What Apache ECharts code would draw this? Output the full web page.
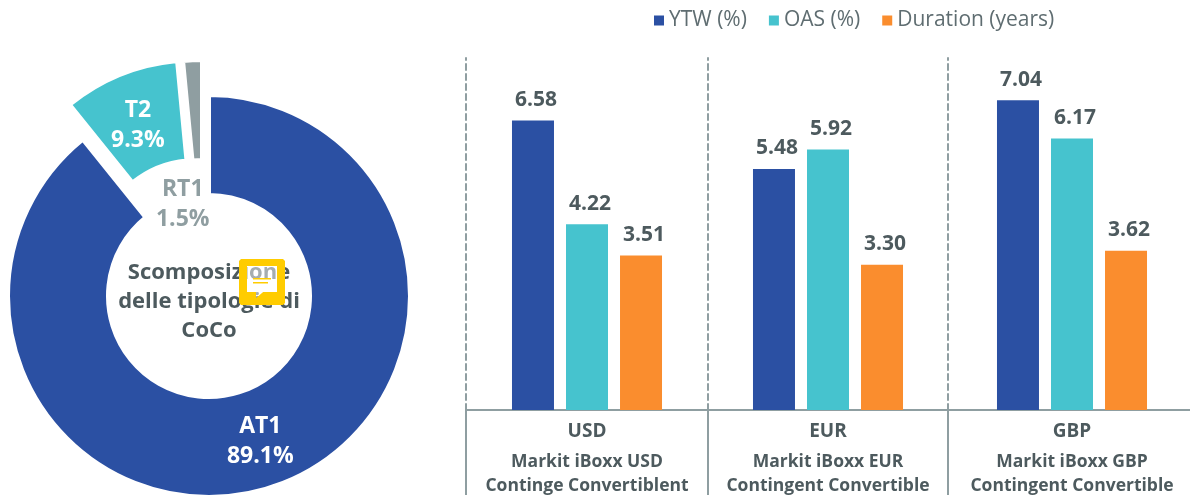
<!DOCTYPE html>
<html>
<head>
<meta charset="utf-8">
<style>html,body{margin:0;padding:0;background:#fff}#chart-container{width:1190px;height:495px}</style>
<script src="https://cdn.jsdelivr.net/npm/echarts@6/dist/echarts.min.js"></script>
</head>
<body>
<div id="chart-container"></div>
<script>
var pieNames = ['AT1', 'T2', 'RT1'];
var pieValues = [89.1, 9.3, 1.5];
var currencies = ['USD', 'EUR', 'GBP'];
var indexNames = ['Markit iBoxx USD\nContinge Convertiblent', 'Markit iBoxx EUR\nContingent Convertible', 'Markit iBoxx GBP\nContingent Convertible'];
var ytw = [6.58, 5.48, 7.04];
var oas = [4.22, 5.92, 6.17];
var duration = [3.51, 3.30, 3.62];
var centerTitle = 'Scomposizione\ndelle tipologie di\nCoCo';

var blue = '#2b50a3', teal = '#46c3ce', orange = '#fa8d2e', grey = '#8f9ea1', dark = '#4d5a5e';
var font = 'Open Sans';

var dom = document.getElementById('chart-container');
var myChart = echarts.init(dom, null, {renderer: 'canvas'});

var pieColors = [blue, teal, grey];
// each slice sits in its own pie so it can be pulled out on its own
var pieCenters = [[209, 296], [196, 261], [202, 261]];
var labelShift = [{dx: 0, dy: 0}, {dx: 0, dy: 7}, {dx: -12, dy: 97}];
var series = [];

pieNames.forEach(function (name, k) {
    series.push({
        type: 'pie',
        center: pieCenters[k],
        radius: [101, 201],
        startAngle: 90,
        clockwise: true,
        silent: true,
        data: pieNames.map(function (n, i) {
            return {
                name: n,
                value: pieValues[i],
                itemStyle: i === k
                    ? {color: pieColors[i], borderColor: '#fff', borderWidth: 4}
                    : {color: 'transparent', borderWidth: 0},
                label: {show: i === k}
            };
        }),
        label: {
            position: 'inside',
            formatter: function (p) { return p.name + '\n' + p.value.toFixed(1) + '%'; },
            color: k === 2 ? grey : '#fff',
            fontFamily: font,
            fontWeight: 'bold',
            fontSize: 23,
            lineHeight: 30
        },
        labelLayout: function (p) {
            if (p.dataIndex === k) return labelShift[k];
        },
        labelLine: {show: false}
    });
});

var grids = [{left: 466, width: 242}, {left: 708, width: 240}, {left: 948, width: 248}];
var barNames = ['YTW (%)', 'OAS (%)', 'Duration (years)'];
var barValues = [ytw, oas, duration];
var barColors = [blue, teal, orange];

grids.forEach(function (g, i) {
    barNames.forEach(function (name, s) {
        series.push({
            type: 'bar',
            name: name,
            xAxisIndex: i,
            yAxisIndex: i,
            data: [barValues[s][i]],
            barWidth: 42,
            barGap: '28.6%',
            itemStyle: {color: barColors[s]},
            label: {
                show: true,
                position: 'top',
                distance: 10,
                offset: [3, 0],
                formatter: function (p) { return p.value.toFixed(2); },
                color: dark,
                fontFamily: font,
                fontWeight: 'bold',
                fontSize: 21
            }
        });
    });
});

// comment marker: square with a speech bubble hole, joined by a keyhole edge
var bubble = [[247, 266], [247, 292], [256, 292], [256, 298], [263, 292], [277, 292], [277, 266]];
var markerSquare = [[239, 261], [241, 259], [283, 259], [285, 261], [285, 303], [283, 305], [241, 305], [239, 303], [239, 261]];
var markerPoints = markerSquare.concat(bubble, [[247, 266], [239, 261]]);

var option = {
    animation: false,
    legend: {
        data: barNames,
        left: 654,
        top: 10,
        padding: 0,
        itemWidth: 10,
        itemHeight: 10,
        itemGap: 22,
        icon: 'rect',
        selectedMode: false,
        textStyle: {color: '#5f6d71', fontFamily: font, fontSize: 21}
    },
    grid: grids.map(function (g) {
        return {left: g.left, width: g.width, top: 58, height: 352, outerBoundsMode: 'none'};
    }),
    xAxis: grids.map(function (g, i) {
        return {
            type: 'category',
            gridIndex: i,
            data: [currencies[i] + '\n' + indexNames[i]],
            axisLine: {lineStyle: {color: grey, width: 2}},
            axisTick: {show: true, length: 85, lineStyle: {color: grey, width: 2}},
            axisLabel: {
                interval: 0,
                margin: 4,
                formatter: function (v) {
                    var parts = v.split('\n');
                    return '{cur|' + parts[0] + '}\n{idx|' + parts[1] + '}\n{idx|' + parts[2] + '}';
                },
                rich: {
                    cur: {color: dark, fontFamily: font, fontWeight: 'bold', fontSize: 19, lineHeight: 36},
                    idx: {color: dark, fontFamily: font, fontWeight: 'bold', fontSize: 17.5, lineHeight: 24}
                }
            }
        };
    }),
    yAxis: grids.map(function (g, i) {
        return {
            type: 'value',
            gridIndex: i,
            min: 0,
            max: 8,
            splitLine: {show: false},
            axisTick: {show: false},
            axisLabel: {show: false},
            axisLine: {show: true, lineStyle: {color: grey, width: 2, type: [6, 4]}}
        };
    }),
    graphic: [
        {
            type: 'text',
            x: 209,
            y: 302,
            style: {text: centerTitle, align: 'center', verticalAlign: 'middle', fill: dark, fontFamily: font, fontWeight: 'bold', fontSize: 22, lineHeight: 29}
        },
        {type: 'polygon', shape: {points: markerPoints}, style: {fill: '#fc0'}},
        {type: 'polygon', shape: {points: bubble}, style: {fill: '#fff', opacity: 0.5}},
        {type: 'rect', shape: {x: 253, y: 278, width: 18, height: 1.5}, style: {fill: '#fc0'}},
        {type: 'rect', shape: {x: 253, y: 282, width: 15, height: 1.5}, style: {fill: '#fc0'}}
    ],
    series: series
};

myChart.setOption(option);
window.addEventListener('resize', myChart.resize);
</script>
</body>
</html>
